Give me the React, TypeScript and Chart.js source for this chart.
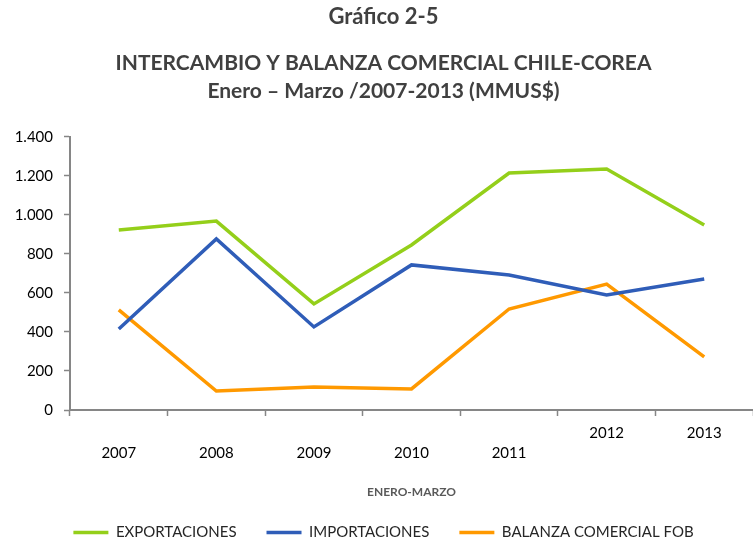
import React, { useEffect, useRef } from "react";
import { Chart, registerables } from "chart.js";

Chart.register(...registerables);

const years = ["2007", "2008", "2009", "2010", "2011", "2012", "2013"];
const exportaciones = [923, 969, 544, 846, 1215, 1236, 949];
const importaciones = [415, 877, 426, 744, 692, 590, 672];
const balanza = [513, 97, 118, 108, 518, 646, 272];
const seriesNames = ["EXPORTACIONES", "IMPORTACIONES", "BALANZA COMERCIAL FOB"];
const titleText = "Gráfico 2-5";
const subtitleText = ["INTERCAMBIO Y BALANZA COMERCIAL CHILE-COREA", "Enero – Marzo /2007-2013 (MMUS$)"];
const xAxisTitle = "ENERO-MARZO";
const yMin = 0;
const yMax = 1400;
const yStep = 200;

const FONT = "Lato";
const CANVAS_H = 550;

function fmt(v: number): string {
  return String(v).replace(/\B(?=(\d{3})+(?!\d))/g, ".");
}

export default function App() {
  const ref = useRef<HTMLCanvasElement | null>(null);
  useEffect(() => {
    if (!ref.current) return;
    const chart = new Chart(ref.current, {
      type: "line",
      data: {
        labels: years,
        datasets: [
          { label: seriesNames[0], data: exportaciones, borderColor: "#94CF1A", backgroundColor: "#94CF1A" },
          { label: seriesNames[1], data: importaciones, borderColor: "#2F5DB8", backgroundColor: "#2F5DB8" },
          { label: seriesNames[2], data: balanza, borderColor: "#FF9900", backgroundColor: "#FF9900" },
        ].map((d) => ({ ...d, borderWidth: 3.5, pointRadius: 0, tension: 0, fill: false })),
      },
      options: {
        responsive: false,
        animation: false,
        devicePixelRatio: 1,
        layout: { padding: { left: 14, right: 0, top: 0, bottom: 0 } },
        plugins: {
          tooltip: { enabled: false },
          title: {
            display: true,
            text: titleText,
            color: "#404040",
            font: { family: FONT, size: 22, weight: "bold", lineHeight: 1.2 },
            padding: { top: 4, bottom: 9 },
          },
          subtitle: {
            display: true,
            text: subtitleText,
            color: "#404040",
            font: { family: FONT, size: 21, weight: "bold", lineHeight: 1.3333 },
            padding: { top: 9.6, bottom: 32 },
          },
          legend: {
            position: "bottom",
            labels: {
              usePointStyle: true,
              pointStyle: "line",
              pointStyleWidth: 35,
              padding: 30,
              color: "#262626",
              font: { family: FONT, size: 15 },
            },
          },
        },
        scales: {
          x: {
            offset: true,
            border: { display: true, color: "#868686", width: 2 },
            grid: { display: true, drawOnChartArea: false, drawTicks: true, tickLength: 6, tickColor: "#868686", tickWidth: 1.5, offset: true },
            ticks: {
              color: "#000000",
              padding: 7,
              maxRotation: 0,
              autoSkip: false,
              font: { family: FONT, size: 15, lineHeight: 1.333 },
              callback: (_v: any, i: number) => (i < 5 ? ["", years[i]] : [years[i]]),
            },
            title: {
              display: true,
              text: xAxisTitle,
              color: "#595959",
              font: { family: FONT, size: 12, weight: "bold" },
              padding: { top: 0, bottom: -4 },
            },
            afterFit: (s: any) => {
              s.height = CANVAS_H - 55 - 410;
            },
          },
          y: {
            min: yMin,
            max: yMax,
            border: { display: true, color: "#868686", width: 2 },
            grid: { display: true, drawOnChartArea: false, drawTicks: true, tickLength: 6, tickColor: "#868686", tickWidth: 1.5 },
            ticks: {
              stepSize: yStep,
              color: "#000000",
              padding: 11,
              font: { family: FONT, size: 15 },
              callback: (v: any) => fmt(Number(v)),
            },
            afterFit: (s: any) => {
              s.width = 56;
            },
          },
        },
      },
    });
    return () => chart.destroy();
  }, []);
  return (
    <div style={{ position: "absolute", left: 0, top: 0, width: 753, height: 538, overflow: "hidden", background: "#fff" }}>
      <canvas ref={ref} width={753} height={CANVAS_H} style={{ display: "block", width: 753, height: CANVAS_H }} />
    </div>
  );
}
